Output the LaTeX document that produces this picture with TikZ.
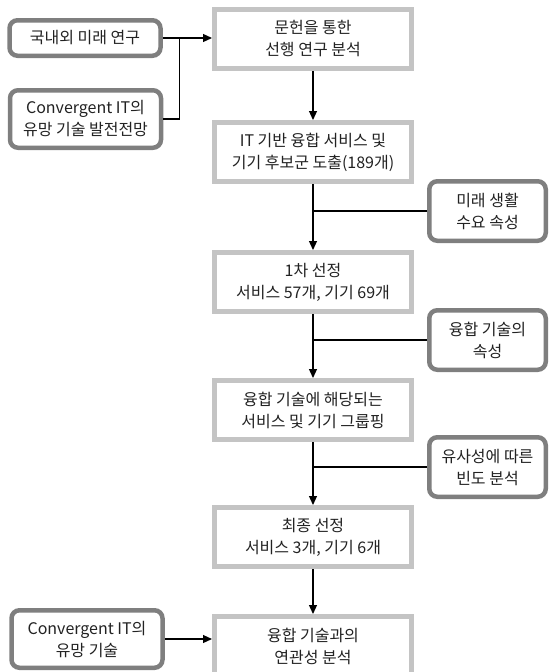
\documentclass[tikz,border=0pt]{standalone}
\usepackage{fontspec}
\setmainfont{Noto Sans CJK KR}
\usepackage{xcolor}
\definecolor{MainLine}{HTML}{C4C4C4}
\definecolor{SideLine}{HTML}{7F7F7F}
\definecolor{Ink}{HTML}{222222}
\usetikzlibrary{positioning,calc,arrows.meta}
\tikzset{
  bx/.style={draw=MainLine,fill=white,line width=5pt,align=center,
    font=\fontsize{16}{22}\selectfont,text=Ink,inner sep=2pt},
  mbx/.style={bx,minimum width=197pt,minimum height=59pt},
  sbx/.style={bx,draw=SideLine,rounded corners=8pt,line width=4.5pt},
  flow/.style={-{Triangle[length=9pt,width=8pt]},draw=black,line width=1.2pt},
  link/.style={draw=black,line width=1.2pt},
}

\begin{document}
\begin{tikzpicture}[x=1pt,y=1pt,node distance=49pt]
\useasboundingbox (0,0) rectangle (549,-672);
% main column
\node[mbx] (lit) at (313,-39) {문헌을 통한\\선행 연구 분석};
\node[mbx,below=of lit] (cand) {IT 기반 융합 서비스 및\\기기 후보군 도출(189개)};
\node[mbx,below=66pt of cand] (first) {1차 선정\\서비스 57개, 기기 69개};
\node[mbx,below=64pt of first] (group) {융합 기술에 해당되는\\서비스 및 기기 그룹핑};
\node[mbx,below=63pt of group] (final) {최종 선정\\서비스 3개, 기기 6개};
\node[mbx,below=45pt of final] (rel) {융합 기술과의\\연관성 분석};

% inputs on the left
\node[sbx,minimum width=151pt,minimum height=35.5pt] (dom) at (85,-38) {국내외 미래 연구};
\node[sbx,minimum width=151pt,minimum height=57.5pt] (cit) at (85.5,-119) {Convergent IT의\\유망 기술 발전전망};
\node[sbx,minimum width=151pt,minimum height=57.5pt] (cit2) at (87,-639) {Convergent IT의\\유망 기술};

% criteria on the right
\node[sbx,minimum width=116.5pt,minimum height=59.5pt] (need) at (487.5,-211) {미래 생활\\수요 속성};
\node[sbx,minimum width=116.5pt,minimum height=59.5pt] (attr) at (487.5,-340) {융합 기술의\\속성};
\node[sbx,minimum width=116.5pt,minimum height=59.5pt] (freq) at (487.5,-467) {유사성에 따른\\빈도 분석};

\foreach \a/\b in {lit/cand,cand/first,first/group,group/final,final/rel}
  \draw[flow] (\a) -- (\b);

\draw[flow] (dom.east) -- (lit.west|-dom.east);
\coordinate (jn) at ($(dom.east)+(17,0)$);
\draw[link] (cit.east) -- (cit.east-|jn) -- (jn);
\draw[flow] (cit2.east) -- (rel.west|-cit2.east);

\foreach \s in {need,attr,freq}
  \draw[link] (\s.west) -- (\s.west-|lit.south);
\end{tikzpicture}
\end{document}
